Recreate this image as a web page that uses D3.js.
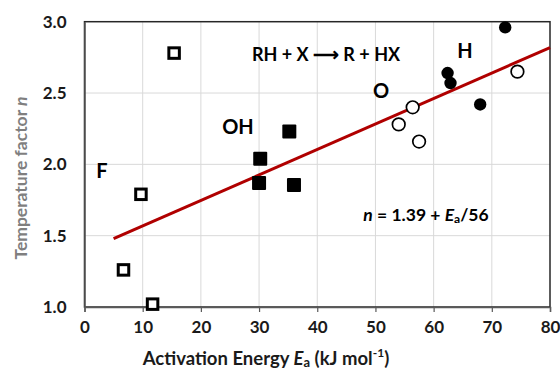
<!DOCTYPE html>
<html>
<head>
<meta charset="utf-8">
<script src="https://cdn.jsdelivr.net/npm/d3@7"></script>
<style>
  body { margin: 0; background: #fff; }
  svg text { font-family: Lato, "Open Sans", sans-serif; font-weight: bold; }
</style>
</head>
<body>
<svg id="chart" width="560" height="370"></svg>
<script>
// Activation energy (kJ/mol) vs temperature factor n for RH + X reactions
const xTicks = [0, 10, 20, 30, 40, 50, 60, 70, 80];
const yTicks = [1.0, 1.5, 2.0, 2.5, 3.0];

const fEa = [15.4, 9.7, 6.7, 11.7];
const fN  = [2.78, 1.79, 1.26, 1.02];

const ohEa = [30.2, 35.2, 30.0, 36.0];
const ohN  = [2.04, 2.23, 1.87, 1.855];

const oEa = [56.4, 54.0, 57.5, 74.4];
const oN  = [2.40, 2.28, 2.16, 2.65];

const hEa = [62.4, 62.9, 68.0, 72.3];
const hN  = [2.64, 2.57, 2.42, 2.96];

const fitIntercept = 1.39, fitDivisor = 56;
const fitRange = [5, 80];

const svg = d3.select("#chart");
const x = d3.scaleLinear().domain([0, 80]).range([84.5, 550]);
const y = d3.scaleLinear().domain([1, 3]).range([307, 21.7]);

// gridlines
svg.append("g").selectAll("line").data(xTicks.slice(1, -1)).join("line")
  .attr("x1", d => x(d)).attr("x2", d => x(d))
  .attr("y1", y(1)).attr("y2", y(3))
  .attr("stroke", "#d9d9d9").attr("stroke-width", 1);
svg.append("g").selectAll("line").data(yTicks.slice(1, -1)).join("line")
  .attr("x1", x(0)).attr("x2", x(80))
  .attr("y1", d => y(d)).attr("y2", d => y(d))
  .attr("stroke", "#d9d9d9").attr("stroke-width", 1);

// plot frame
svg.append("rect")
  .attr("x", x(0)).attr("y", y(3))
  .attr("width", x(80) - x(0)).attr("height", y(1) - y(3))
  .attr("fill", "none").attr("stroke", "#262626").attr("stroke-width", 1.5);

// axes
const xAxis = svg.append("g").attr("transform", `translate(0,${y(1)})`)
  .call(d3.axisBottom(x).tickValues(xTicks).tickSize(5).tickPadding(9).tickFormat(d3.format("d")));
const yAxis = svg.append("g").attr("transform", `translate(${x(0)},0)`)
  .call(d3.axisLeft(y).tickValues(yTicks).tickSize(0).tickPadding(18).tickFormat(d3.format(".1f")));
[xAxis, yAxis].forEach(a => {
  a.select(".domain").attr("stroke", "#595959").attr("stroke-width", 1.5);
  a.selectAll(".tick line").attr("stroke", "#595959").attr("stroke-width", 1.2);
  a.selectAll(".tick text").attr("font-size", 17).attr("fill", "#1a1a1a")
    .style("font-family", "Lato, 'Open Sans', sans-serif").style("font-weight", "bold");
});

// fit line
svg.append("line")
  .attr("x1", x(fitRange[0])).attr("y1", y(fitIntercept + fitRange[0] / fitDivisor))
  .attr("x2", x(fitRange[1])).attr("y2", y(fitIntercept + fitRange[1] / fitDivisor))
  .attr("stroke", "#b00000").attr("stroke-width", 3);

// markers
const zip = (a, b) => a.map((v, i) => [v, b[i]]);
const sq = 13.5, sw = 3;
svg.append("g").selectAll("rect").data(zip(fEa, fN)).join("rect")
  .attr("x", d => x(d[0]) - sq / 2 + sw / 2).attr("y", d => y(d[1]) - sq / 2 + sw / 2)
  .attr("width", sq - sw).attr("height", sq - sw)
  .attr("fill", "#fff").attr("stroke", "#000").attr("stroke-width", sw);
svg.append("g").selectAll("rect").data(zip(ohEa, ohN)).join("rect")
  .attr("x", d => x(d[0]) - 7).attr("y", d => y(d[1]) - 7)
  .attr("width", 14).attr("height", 14).attr("rx", 1)
  .attr("fill", "#000");
svg.append("g").selectAll("circle").data(zip(oEa, oN)).join("circle")
  .attr("cx", d => x(d[0])).attr("cy", d => y(d[1])).attr("r", 6.3)
  .attr("fill", "#fff").attr("stroke", "#000").attr("stroke-width", 1.7);
svg.append("g").selectAll("circle").data(zip(hEa, hN)).join("circle")
  .attr("cx", d => x(d[0])).attr("cy", d => y(d[1])).attr("r", 6.2)
  .attr("fill", "#000");

// annotations
const label = (t, px, py, size) => svg.append("text")
  .attr("x", px).attr("y", py).attr("text-anchor", "middle")
  .attr("dominant-baseline", "central").attr("font-size", size).attr("fill", "#000").text(t);
label("RH + X \u27F6 R + HX", 326, 54, 18);
label("H", 465, 50, 20);
label("O", 381, 90, 20);
label("OH", 238, 126, 20);
label("F", 102, 170, 20);

const eq = svg.append("text").attr("x", 426).attr("y", 214)
  .attr("text-anchor", "middle").attr("dominant-baseline", "central")
  .attr("font-size", 17.5).attr("fill", "#000");
eq.append("tspan").attr("font-style", "italic").text("n");
eq.append("tspan").text(" = 1.39 + ");
eq.append("tspan").attr("font-style", "italic").text("E");
eq.append("tspan").attr("font-size", 12).attr("dy", 4).text("a");
eq.append("tspan").attr("dy", -4).text("/56");

// axis titles
const xt = svg.append("text").attr("x", 266).attr("y", 358)
  .attr("text-anchor", "middle").attr("dominant-baseline", "central")
  .attr("font-size", 18.5).attr("fill", "#1a1a1a");
xt.append("tspan").text("Activation Energy ");
xt.append("tspan").attr("font-style", "italic").text("E");
xt.append("tspan").attr("font-size", 13).attr("dy", 4).text("a");
xt.append("tspan").attr("dy", -4).text(" (kJ mol");
xt.append("tspan").attr("font-size", 12).attr("dy", -6).text("-1");
xt.append("tspan").attr("dy", 6).text(")");

const yt = svg.append("text")
  .attr("transform", "translate(20,178) rotate(-90)")
  .attr("text-anchor", "middle").attr("dominant-baseline", "central")
  .attr("font-size", 17.5).attr("fill", "#7f7f7f");
yt.append("tspan").text("Temperature factor ");
yt.append("tspan").attr("font-style", "italic").text("n");
</script>
</body>
</html>
